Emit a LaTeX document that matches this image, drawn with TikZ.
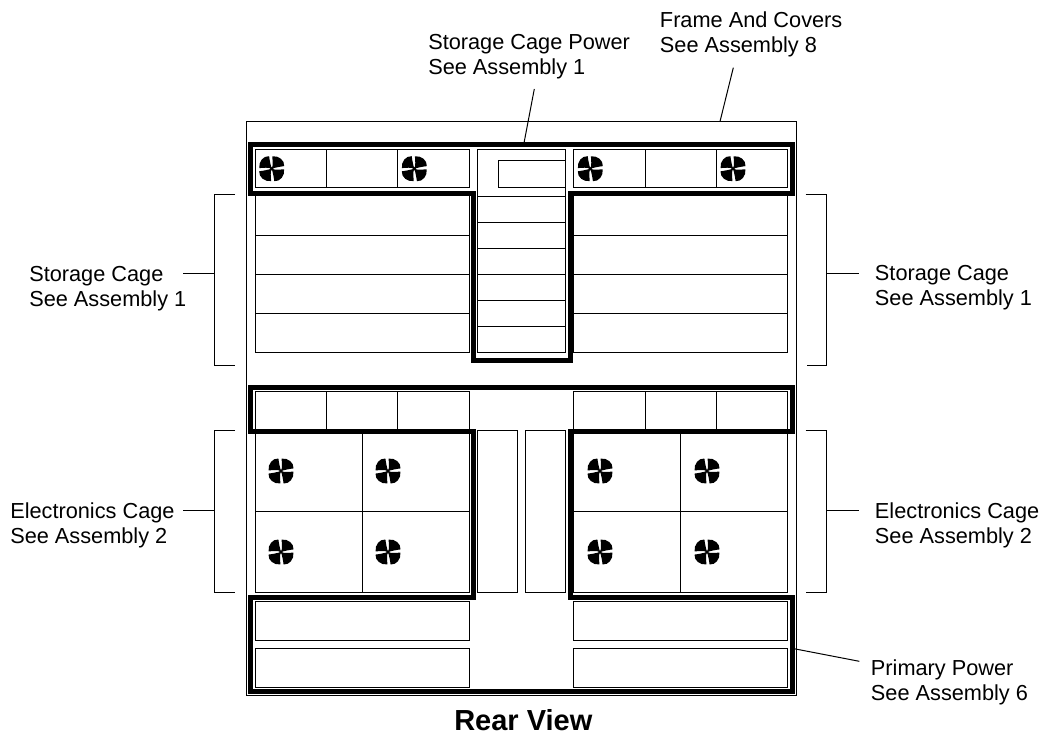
\documentclass[tikz,border=0pt]{standalone}
\usepackage{fontspec}
\setmainfont{Liberation Sans}
\tikzset{
  px/.style={x=0.75pt,y=-0.75pt},
  thin box/.style={draw=black,line width=0.75pt,fill=none},
  heavy/.style={draw=black,line width=3.75pt,miter limit=10},
  leader/.style={draw=black,line width=0.75pt},
  label/.style={inner sep=0pt,anchor=base west,align=left,font=\fontsize{16.3}{18.75}\selectfont},
  title/.style={inner sep=0pt,anchor=base,font=\fontsize{21.75}{24}\selectfont\bfseries},
  pics/fan/.style={code={
    \fill[black] (0,0) circle[radius=1.8];
    \foreach \a in {0,90,180,270}{
      \fill[black,rotate=\a] (0,0) .. controls (1.6,-3.5) and (0.8,-8) .. (0.6,-12.4)
        .. controls (7,-13.2) and (13,-8.5) .. (12.5,-2.6)
        .. controls (8,-2) and (4,-1.2) .. cycle;
    }
  }}
}
\begin{document}
\begin{tikzpicture}[px]
\useasboundingbox (0,0) rectangle (1048,734);
% frame
\draw[thin box] (246.5,121.5) rectangle (796.5,695.5);
% top rows
\foreach \xa/\xb/\xc/\xd in {255/326.5/397.7/469, 573.7/645.3/716.3/787.7}{
  \draw[thin box] (\xa,149.3) rectangle (\xd,188);
  \draw[thin box] (\xb,149.3) -- (\xb,188) (\xc,149.3) -- (\xc,188);
  % storage
  \draw[thin box] (\xa,194) rectangle (\xd,352.7);
  \foreach \y in {235.7,274.7,313.7} \draw[thin box] (\xa,\y) -- (\xd,\y);
  % electronics row
  \draw[thin box] (\xa,391.7) rectangle (\xd,431);
  \draw[thin box] (\xb,391.7) -- (\xb,431) (\xc,391.7) -- (\xc,431);
  % electronics
  \draw[thin box] (\xa,431) rectangle (\xd,592.3);
  \draw[thin box] (\xa,511.7) -- (\xd,511.7);
  % primary power
  \draw[thin box] (\xa,601) rectangle (\xd,640);
  \draw[thin box] (\xa,648.3) rectangle (\xd,687.3);
}
\draw[thin box] (362,431) -- (362,592.3);
\draw[thin box] (680.7,431) -- (680.7,592.3);
% centre column
\draw[thin box] (477.3,149.3) rectangle (565.3,352.7);
\draw[thin box] (498.3,160.3) rectangle (565.3,188);
\foreach \y in {196.7,222.3,248.3,274.7,300.7,326.7} \draw[thin box] (477.3,\y) -- (565.3,\y);
\draw[thin box] (477.3,430.7) rectangle (517.7,592.3);
\draw[thin box] (525.3,430.7) rectangle (565.3,592.3);
% heavy outlines
\draw[heavy] (250,144.5) -- (792,144.5) -- (792,193.5) -- (570,193.5) -- (570,360) -- (473.5,360) -- (473.5,193.5) -- (250,193.5) -- cycle;
\draw[heavy] (250,387) -- (792,387) -- (792,431) -- (570,431) -- (570,597.5) -- (792,597.5) -- (792,691) -- (250,691) -- (250,597.5) -- (473.5,597.5) -- (473.5,431) -- (250,431) -- cycle;
% fans
\foreach \p/\q in {271.7/168.7,414.3/168.7,590.3/168.7,733/168.7,281/471,388/471,600/471,707/471,281/552,388/552,600/552,707/552}{
  \pic at (\p,\q) {fan};
}
% labels (anchored on the second baseline)
\node[label] (storL) at (29,306.7) {Storage Cage\\See Assembly 1};
\node[label] (elecL) at (10,543.3) {Electronics Cage\\See Assembly 2};
\node[label] (storR) at (874.7,305) {Storage Cage\\See Assembly 1};
\node[label] (elecR) at (874.7,543.3) {Electronics Cage\\See Assembly 2};
\node[label] (prim) at (870.7,700.5) {Primary Power\\See Assembly 6};
\node[label] (scp) at (428,75) {Storage Cage Power\\See Assembly 1};
\node[label] (fac) at (659.7,52.3) {Frame And Covers\\See Assembly 8};
\node[title] (rear) at (523.3,730) {Rear View};
% brackets
\draw[leader] (235,194.5) -- (214.5,194.5) -- (214.5,365.5) -- (235,365.5);
\draw[leader] (235,430.5) -- (214.5,430.5) -- (214.5,592.5) -- (235,592.5);
\draw[leader] (805.5,194.5) -- (826.5,194.5) -- (826.5,365.5) -- (806.5,365.5);
\draw[leader] (805.5,430.5) -- (826.5,430.5) -- (826.5,592.5) -- (805.5,592.5);
% leaders
\coordinate (a1) at (183,273.5); \coordinate (a2) at (214.5,273.5);
\coordinate (b1) at (183,510.5); \coordinate (b2) at (214.5,510.5);
\coordinate (c1) at (826.5,273.5); \coordinate (c2) at (859,273.5);
\coordinate (d1) at (826.5,510.5); \coordinate (d2) at (859,510.5);
\coordinate (e1) at (794,648.7); \coordinate (e2) at (859.3,661.3);
\coordinate (f1) at (534.3,89); \coordinate (f2) at (524,143);
\coordinate (g1) at (733.3,67.7); \coordinate (g2) at (720,121.5);
\draw[leader] (a1) -- (a2);
\draw[leader] (b1) -- (b2);
\draw[leader] (c1) -- (c2);
\draw[leader] (d1) -- (d2);
\draw[leader] (e1) -- (e2);
\draw[leader] (f1) -- (f2);
\draw[leader] (g1) -- (g2);
\end{tikzpicture}
\end{document}
